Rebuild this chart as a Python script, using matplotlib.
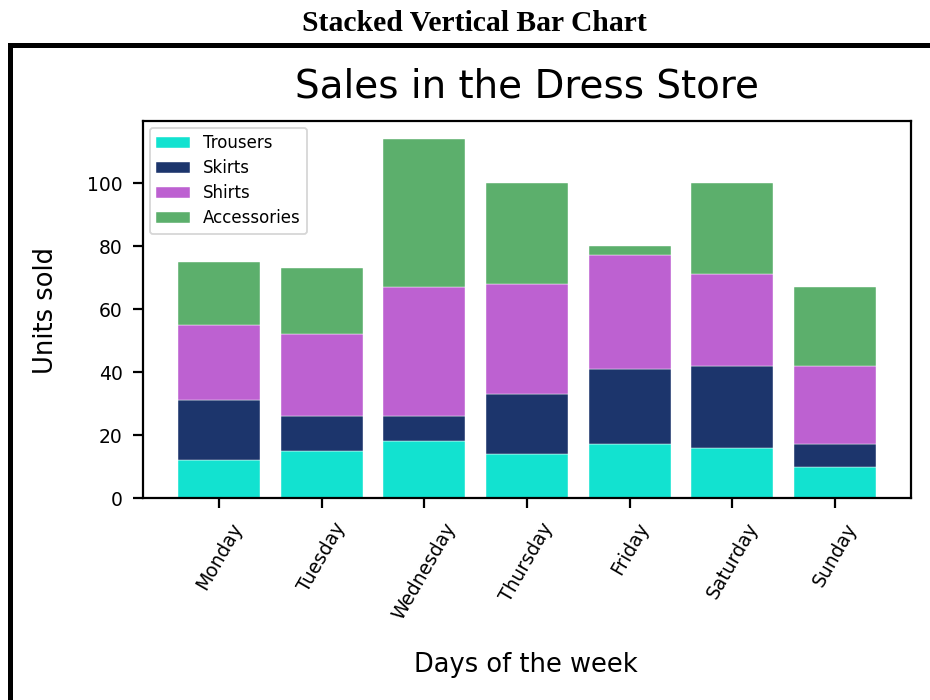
import matplotlib
matplotlib.use("Agg")
import matplotlib.pyplot as plt
from matplotlib.lines import Line2D
import numpy as np

days = ["Monday", "Tuesday", "Wednesday", "Thursday", "Friday", "Saturday", "Sunday"]
trousers = [12, 15, 18, 14, 17, 16, 10]
skirts = [19, 11, 8, 19, 24, 26, 7]
shirts = [24, 26, 41, 35, 36, 29, 25]
accessories = [20, 21, 47, 32, 3, 29, 25]
series_names = ["Trousers", "Skirts", "Shirts", "Accessories"]
colors = ["#12e2d0", "#1c356c", "#bd61d1", "#5caf6c"]

W, H = 930, 700
fig = plt.figure(figsize=(W / 100, H / 100), dpi=100)
fig.patch.set_facecolor("white")

ax = fig.add_axes([143 / W, 1 - 498 / H, (911 - 143) / W, (498 - 121) / H])

x = np.arange(len(days))
bottom = np.zeros(len(days))
for name, vals, c in zip(series_names, [trousers, skirts, shirts, accessories], colors):
    ax.bar(x, vals, 0.8, bottom=bottom, color=c, label=name,
           edgecolor="white", linewidth=0.3)
    bottom += np.array(vals)

ax.set_xticks(x)
ax.set_xticklabels(days, rotation=60, ha="center", fontsize=13.5)
ax.set_yticks([0, 20, 40, 60, 80, 100])
ax.tick_params(axis="y", labelsize=13.5, pad=7)
ax.tick_params(axis="x", pad=8)
ax.tick_params(direction="out", length=7.5, width=1.6, colors="black")
for s in ax.spines.values():
    s.set_linewidth(1.6)

leg = ax.legend(loc="upper left", fontsize=12, borderaxespad=0.4,
                labelspacing=0.42)
leg.get_frame().set_linewidth(1.3)

# Chart texts
fig.text(527 / W, 1 - 98 / H, "Sales in the Dress Store", fontsize=28,
         ha="center", va="baseline")
fig.text(526 / W, 1 - 672 / H, "Days of the week", fontsize=18.5,
         ha="center", va="baseline")
fig.text(46 / W, 1 - 310 / H, "Units sold", fontsize=18.5, rotation=90,
         ha="center", va="center")

# Page title and frame
fig.text(474 / W, 1 - 31 / H, "Stacked Vertical Bar Chart",
         family=["Liberation Serif", "DejaVu Serif"], weight="bold",
         fontsize=21.3, ha="center", va="baseline")
fig.add_artist(Line2D([10 / W, 1.0], [1 - 45 / H, 1 - 45 / H],
                      transform=fig.transFigure, color="black", linewidth=3.6,
                      solid_capstyle="projecting"))
fig.add_artist(Line2D([10 / W, 10 / W], [1 - 45 / H, 0.0],
                      transform=fig.transFigure, color="black", linewidth=3.6,
                      solid_capstyle="projecting"))

fig.savefig("out.png", dpi=100, facecolor="white")
